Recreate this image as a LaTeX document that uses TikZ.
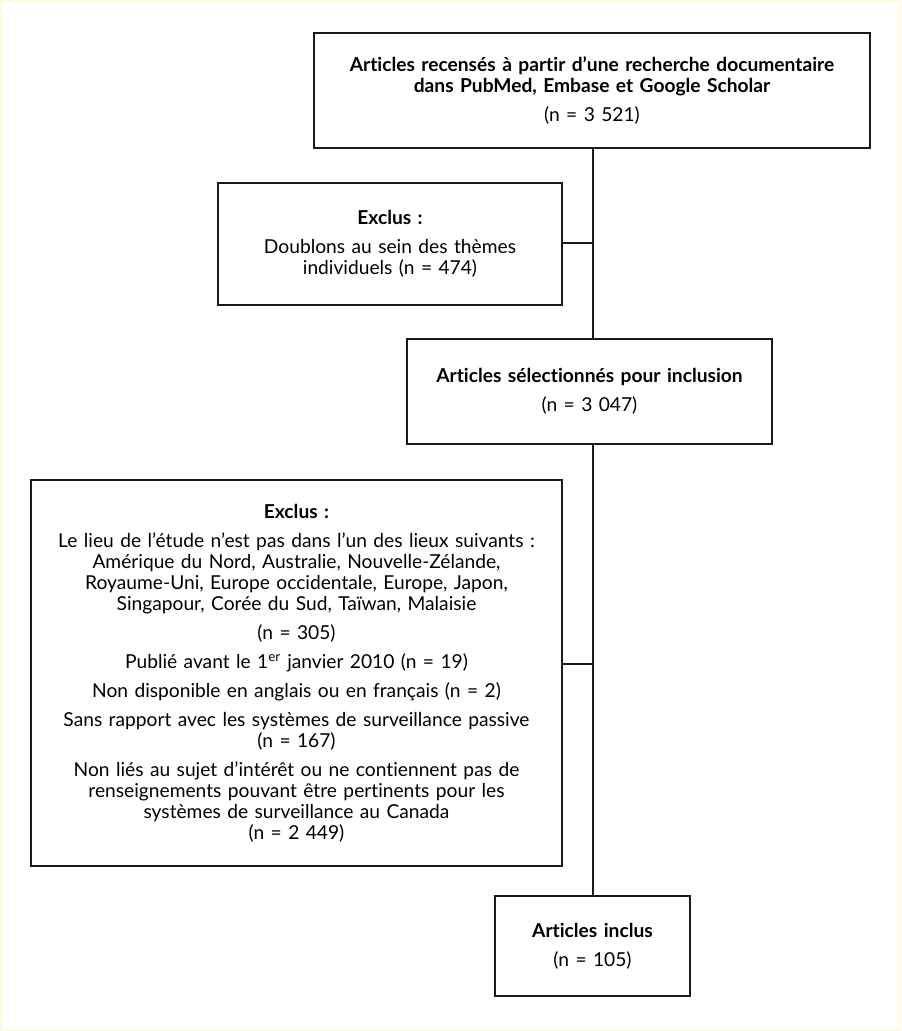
\documentclass[tikz,border=0pt]{standalone}
\usepackage{fontspec}
\setmainfont{Lato}[Ligatures=NoCommon]
\usepackage{tikz}
\usetikzlibrary{positioning, calc}
\definecolor{frameYellow}{RGB}{255, 250, 220}
\definecolor{lineBlack}{RGB}{25, 25, 25}

\begin{document}
\begin{tikzpicture}[
    x=0.75pt, y=-0.75pt,
    box/.style={rectangle, draw=lineBlack, line width=1.1pt, fill=white, align=center, inner sep=4pt, font=\fontsize{14.4}{15.75}\selectfont},
    link/.style={draw=lineBlack, line width=1.1pt}
]
    % Page frame
    \draw[frameYellow, line width=1.5pt, fill=white] (1,1) rectangle (900,1030);
    \useasboundingbox (0,0) rectangle (901,1031);

    % Nodes
    \node[box, minimum width=417pt, minimum height=86.25pt, text width=405pt] (found) at (592,90.5)
        {\textbf{Articles recensés à partir d’une recherche documentaire}\\
         \textbf{dans PubMed, Embase et Google Scholar}\\[6pt]
         (n = 3 521)};
    \node[box, minimum width=258pt, minimum height=91.5pt, text width=245pt] (dupl) at (390,244)
        {\textbf{Exclus :}\\[6pt]
         Doublons au sein des thèmes\\
         individuels (n = 474)};
    \node[box, minimum width=273.75pt, minimum height=78.75pt, text width=260pt] (screened) at (589.5,391.5)
        {\textbf{Articles sélectionnés pour inclusion}\\[6pt]
         (n = 3 047)};
    \node[box, minimum width=398.25pt, minimum height=289.5pt, text width=385pt] (excl) at (296.5,673)
        {\textbf{Exclus :}\\[6pt]
         Le lieu de l’étude n’est pas dans l’un des lieux suivants :\\
         Amérique du Nord, Australie, Nouvelle-Zélande,\\
         Royaume-Uni, Europe occidentale, Europe, Japon,\\
         Singapour, Corée du Sud, Taïwan, Malaisie\\[6pt]
         (n = 305)\\[6pt]
         Publié avant le 1\textsuperscript{er} janvier 2010 (n = 19)\\[6pt]
         Non disponible en anglais ou en français (n = 2)\\[6pt]
         Sans rapport avec les systèmes de surveillance passive\\
         (n = 167)\\[6pt]
         Non liés au sujet d’intérêt ou ne contiennent pas de\\
         renseignements pouvant être pertinents pour les\\
         systèmes de surveillance au Canada\\
         (n = 2 449)};
    \node[box, minimum width=146.25pt, minimum height=75pt, text width=135pt] (incl) at (592.5,946)
        {\textbf{Articles inclus}\\[6pt]
         (n = 105)};

    % Trunk
    \coordinate (trunk) at (593,0);

    % Links
    \draw[link] (found.south -| trunk) -- (screened.north -| trunk);
    \draw[link] (screened.south -| trunk) -- (incl.north -| trunk);
    \draw[link] ([yshift=0.75pt]dupl.east) -- ([yshift=0.75pt]dupl.east -| trunk);
    \draw[link] ([yshift=6.75pt]excl.east) -- ([yshift=6.75pt]excl.east -| trunk);
\end{tikzpicture}
\end{document}
